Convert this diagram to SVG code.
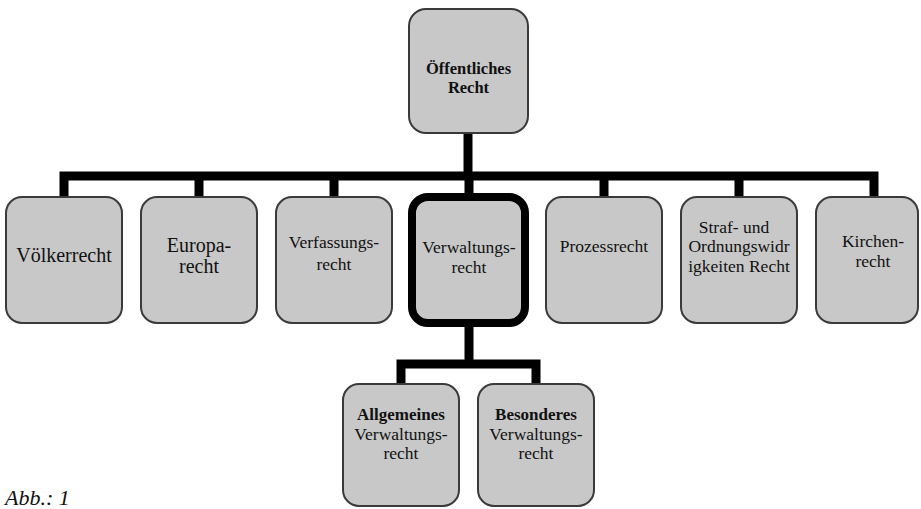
<svg xmlns="http://www.w3.org/2000/svg" width="921" height="509" viewBox="0 0 921 509">
<style>
.box{fill:#c8c8c8;stroke:#3a3a3a;stroke-width:2}
.thick{fill:#c8c8c8;stroke:#000;stroke-width:8}
.con{fill:none;stroke:#000;stroke-width:9;stroke-linejoin:miter;stroke-linecap:butt}
text{font-family:"Liberation Serif","Times New Roman",serif;fill:#111;text-anchor:middle}
.t{font-size:17.5px}
.big{font-size:20px}
.b{font-weight:bold;font-size:17px}
.bt{font-weight:bold;font-size:16.5px}
.cap{font-style:italic;font-size:22px;text-anchor:start}
</style>
<rect width="921" height="509" fill="#fff"/>
<g id="connectors">
<path class="con" d="M468,133 V176"/>
<path class="con" d="M64,197 V176 H874 V197"/>
<path class="con" d="M199,176 V197 M334,176 V197 M469,176 V193 M604,176 V197 M739,176 V197"/>
<path class="con" d="M469,327 V364"/>
<path class="con" d="M401,384 V364 H536 V384"/>
</g>
<g id="oeffentliches-recht">
<rect class="box" x="409" y="9" width="119" height="124" rx="17"/>
<text class="bt" x="468.5" y="74">Öffentliches</text>
<text class="bt" x="468.5" y="93">Recht</text>
</g>
<g id="voelkerrecht">
<rect class="box" x="6" y="197" width="116" height="126" rx="16"/>
<text class="big" x="64" y="262">Völkerrecht</text>
</g>
<g id="europarecht">
<rect class="box" x="141" y="197" width="116" height="126" rx="16"/>
<text class="big" x="199" y="252">Europa-</text>
<text class="big" x="199" y="273">recht</text>
</g>
<g id="verfassungsrecht">
<rect class="box" x="276" y="197" width="116" height="126" rx="16"/>
<text class="t" x="334" y="248">Verfassungs-</text>
<text class="t" x="334" y="270">recht</text>
</g>
<g id="verwaltungsrecht">
<rect class="thick" x="412" y="197" width="113" height="126" rx="16"/>
<text class="t" x="469" y="253">Verwaltungs-</text>
<text class="t" x="469" y="273">recht</text>
</g>
<g id="prozessrecht">
<rect class="box" x="546" y="197" width="116" height="126" rx="16"/>
<text class="t" x="604" y="252">Prozessrecht</text>
</g>
<g id="straf-und-owi-recht">
<rect class="box" x="681" y="197" width="116" height="126" rx="16"/>
<text class="t" x="734" y="233">Straf-  und</text>
<text class="t" x="739" y="252">Ordnungswidr</text>
<text class="t" x="739" y="272">igkeiten Recht</text>
</g>
<g id="kirchenrecht">
<rect class="box" x="816" y="197" width="102" height="126" rx="16"/>
<text class="t" x="873" y="247">Kirchen-</text>
<text class="t" x="873" y="267">recht</text>
</g>
<g id="allgemeines-verwaltungsrecht">
<rect class="box" x="343" y="384" width="116" height="122" rx="16"/>
<text class="b" x="401" y="420">Allgemeines</text>
<text class="t" x="401" y="440">Verwaltungs-</text>
<text class="t" x="401" y="459">recht</text>
</g>
<g id="besonderes-verwaltungsrecht">
<rect class="box" x="478" y="384" width="116" height="122" rx="16"/>
<text class="b" x="536" y="420">Besonderes</text>
<text class="t" x="536" y="440">Verwaltungs-</text>
<text class="t" x="536" y="459">recht</text>
</g>
<text class="cap" x="5" y="505">Abb.: 1</text>
</svg>
